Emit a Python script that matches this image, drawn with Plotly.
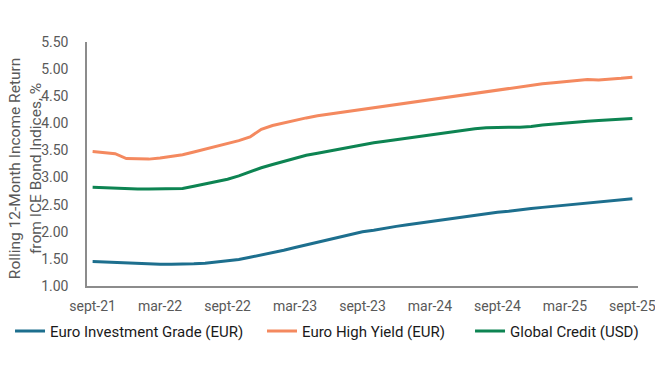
import plotly.graph_objects as go

month_abbr = ["sept", "oct", "nov", "dec", "jan", "feb", "mar", "apr", "may", "jun", "jul", "aug"]
months = []
for k in range(49):
    m = k % 12
    yr = 21 + (k + 8) // 12
    months.append(f"{month_abbr[m]}-{yr}")

tick_labels = ["sept-21", "mar-22", "sept-22", "mar-23", "sept-23", "mar-24", "sept-24", "mar-25", "sept-25"]

euro_ig = [1.45, 1.44, 1.43, 1.42, 1.41, 1.40, 1.40, 1.40, 1.40, 1.41, 1.42, 1.44, 1.46,
           1.49, 1.53, 1.57, 1.61, 1.66, 1.71, 1.76, 1.81, 1.86, 1.91, 1.95, 2.00,
           2.03, 2.07, 2.10, 2.13, 2.16, 2.19, 2.22, 2.25, 2.28, 2.31, 2.34, 2.36,
           2.38, 2.41, 2.43, 2.45, 2.47, 2.49, 2.51, 2.53, 2.55, 2.57, 2.59, 2.61]

euro_hy = [3.48, 3.46, 3.44, 3.35, 3.34, 3.34, 3.36, 3.39, 3.42, 3.47, 3.52, 3.57, 3.62,
           3.68, 3.75, 3.89, 3.96, 4.01, 4.06, 4.10, 4.14, 4.17, 4.20, 4.23, 4.26,
           4.29, 4.31, 4.34, 4.37, 4.40, 4.43, 4.46, 4.49, 4.53, 4.56, 4.59, 4.62,
           4.65, 4.67, 4.70, 4.73, 4.75, 4.77, 4.79, 4.81, 4.80, 4.81, 4.83, 4.85]

global_credit = [2.82, 2.81, 2.80, 2.79, 2.79, 2.79, 2.79, 2.79, 2.80, 2.84, 2.88, 2.92, 2.97,
                 3.03, 3.11, 3.18, 3.24, 3.30, 3.36, 3.41, 3.45, 3.49, 3.53, 3.57, 3.61,
                 3.64, 3.67, 3.70, 3.72, 3.75, 3.78, 3.81, 3.84, 3.87, 3.90, 3.92, 3.93,
                 3.93, 3.93, 3.94, 3.97, 3.99, 4.01, 4.03, 4.04, 4.05, 4.06, 4.07, 4.09]

y_ticks = [1.0, 1.5, 2.0, 2.5, 3.0, 3.5, 4.0, 4.5, 5.0, 5.5]

series = [
    ("Euro Investment Grade (EUR)", euro_ig, "#1d6f8e", "legend"),
    ("Euro High Yield (EUR)", euro_hy, "#f4895f", "legend2"),
    ("Global Credit (USD)", global_credit, "#0d8452", "legend3"),
]

fig = go.Figure()
for name, vals, col, lg in series:
    fig.add_trace(go.Scatter(x=months, y=vals, name=name, mode="lines",
                             line=dict(color=col, width=3), legend=lg))

font_family = "Roboto, Liberation Sans, sans-serif"
legend_font = dict(size=15, color="#1a1a1a", family=font_family)


def make_legend(xpos):
    return dict(orientation="h", xref="container", yref="container",
                x=xpos, y=0.10, xanchor="left", yanchor="middle",
                font=legend_font, itemwidth=30, bgcolor="rgba(0,0,0,0)")


fig.update_layout(
    width=655, height=368,
    margin=dict(l=87, r=17, t=42, b=82, autoexpand=False),
    plot_bgcolor="white", paper_bgcolor="white",
    font=dict(family=font_family, size=14, color="#595959"),
    showlegend=True,
    legend=make_legend(0.0153),
    legend2=make_legend(0.400),
    legend3=make_legend(0.7176),
    xaxis=dict(type="category", categoryorder="array", categoryarray=months,
               range=[-0.5, 48.5], tickmode="array", tickvals=tick_labels,
               ticktext=tick_labels, showgrid=False, showline=True,
               linecolor="#8c8c8c", linewidth=1.5, ticks="", ticklabelstandoff=6,
               automargin=False, tickfont=dict(size=14, color="#595959")),
    yaxis=dict(range=[1.0, 5.5], tickmode="array", tickvals=y_ticks,
               ticktext=[f"{v:.2f}" for v in y_ticks], showgrid=False,
               showline=True, linecolor="#8c8c8c", linewidth=1.5, ticks="",
               ticklabelstandoff=14, zeroline=False, automargin=False,
               tickfont=dict(size=14, color="#595959")),
    annotations=[dict(text="Rolling 12-Month Income Return<br>from ICE Bond Indices, %",
                      xref="paper", yref="paper", x=-0.112, y=0.48,
                      xanchor="center", yanchor="middle", textangle=-90,
                      showarrow=False, font=dict(size=15.5, color="#595959"))],
)

fig.write_html("out.html", config={"displayModeBar": False},
               post_script="document.body.style.margin='0px';document.body.style.overflow='hidden';")
